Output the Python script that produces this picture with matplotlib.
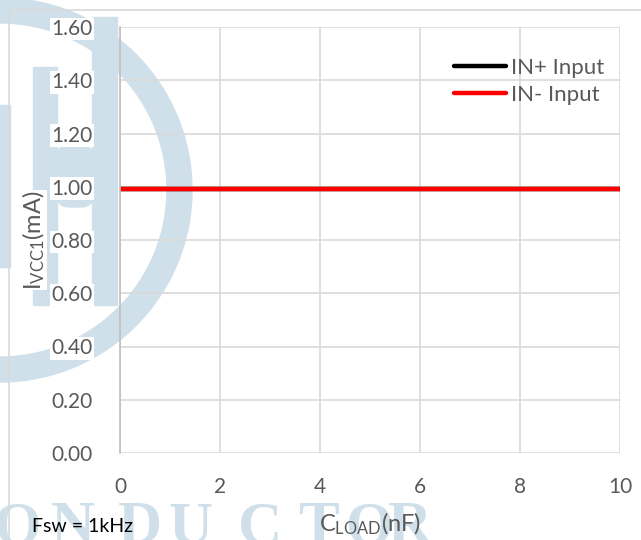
import matplotlib
matplotlib.use("Agg")
import matplotlib.pyplot as plt
from matplotlib.patches import Wedge, Rectangle, FancyBboxPatch
from matplotlib.transforms import Affine2D

# data
c_load = [0, 1, 2, 3, 4, 5, 6, 7, 8, 9, 10]
ivcc1_in_pos = [0.99, 0.99, 0.99, 0.99, 0.99, 0.99, 0.99, 0.99, 0.99, 0.99, 0.99]
ivcc1_in_neg = [0.99, 0.99, 0.99, 0.99, 0.99, 0.99, 0.99, 0.99, 0.99, 0.99, 0.99]
series_labels = ["IN+ Input", "IN- Input"]
y_ticks = [0.0, 0.2, 0.4, 0.6, 0.8, 1.0, 1.2, 1.4, 1.6]
x_ticks = [0, 2, 4, 6, 8, 10]
watermark_letters = "ONDUCTOR"

W, H = 641, 540
FONT = "Lato"
GRAY = "#595959"
WM = "#d0e0ea"

plt.rcParams["font.family"] = [FONT, "DejaVu Sans"]

fig = plt.figure(figsize=(W / 100, H / 100), dpi=100)
fig.patch.set_facecolor("white")

# pixel coordinates, y pointing down
px = Affine2D().scale(1 / W, -1 / H).translate(0, 1) + fig.transFigure

# watermark logo behind the chart
fig.patches.append(Wedge((0, 190), 192, 0, 360, width=25, color=WM, transform=px, zorder=0))
fig.patches.append(Rectangle((33, 67), 24, 238, color=WM, transform=px, zorder=0))
fig.patches.append(Rectangle((92, 17), 25, 288, color=WM, transform=px, zorder=0))
fig.patches.append(FancyBboxPatch((60, 148), 30, 56, boxstyle="round,pad=3,rounding_size=12",
                                  color=WM, transform=px, zorder=0))
fig.patches.append(Rectangle((0, 105), 10, 162, color=WM, transform=px, zorder=0))
letter_x = [18, 73, 140, 191, 260, 318, 370, 410]
for ch, lx in zip(watermark_letters, letter_x):
    fig.text(lx / W, 1 - 543 / H, ch, fontsize=44, fontweight="bold", family="Liberation Serif",
             color=WM, ha="center", va="baseline", zorder=0)

# chart area border (runs off the picture)
fig.patches.append(Rectangle((9, 10), 700, 600, fill=False, edgecolor="#d9d9d9", lw=1.2,
                             transform=px, zorder=1))

ax = fig.add_axes([120 / W, 1 - 453 / H, 500 / W, 426 / H])
ax.set_facecolor("none")
ax.set_zorder(2)

ax.plot(c_load, ivcc1_in_pos, color="black", lw=3.2, label=series_labels[0], solid_capstyle="round")
ax.plot(c_load, ivcc1_in_neg, color="#ff0000", lw=3.2, label=series_labels[1], solid_capstyle="round")

ax.set_xlim(0, 10)
ax.set_ylim(0, 1.6)
ax.set_xticks(x_ticks)
ax.set_yticks(y_ticks)
ax.set_yticklabels([f"{v:.2f}" for v in y_ticks])
ax.grid(True, color="#d9d9d9", lw=1.2)
ax.set_axisbelow(True)
ax.tick_params(length=0, labelsize=15, labelcolor=GRAY)
ax.tick_params(axis="x", pad=17)
ax.tick_params(axis="y", pad=20)
for lbl in ax.get_yticklabels():
    lbl.set_bbox(dict(facecolor="white", edgecolor="none", pad=1))
for side in ["top", "right", "bottom"]:
    ax.spines[side].set_visible(False)
ax.spines["left"].set_color("#bfbfbf")
ax.spines["left"].set_linewidth(1.2)

ax.set_ylabel(r"$\mathregular{I_{VCC1}(mA)}$", fontsize=17, color=GRAY,
              bbox=dict(facecolor="white", edgecolor="none", pad=0))
ax.yaxis.set_label_coords(-0.146, 0.5)
ax.set_xlabel(r"$\mathregular{C_{LOAD}(nF)}$", fontsize=17, color=GRAY)
ax.xaxis.set_label_coords(0.5, -0.135)

leg = ax.legend(loc="upper right", bbox_to_anchor=(615 / W, 1 - 47 / H), bbox_transform=fig.transFigure,
                frameon=False, fontsize=16, handlelength=2.35, handletextpad=0.22, labelspacing=0.3,
                borderpad=0)
for t in leg.get_texts():
    t.set_color(GRAY)

fig.text(32 / W, 1 - 526 / H, "Fsw = 1kHz", fontsize=14, color="black", va="center", ha="left", zorder=3)

fig.savefig("out.png", dpi=100)
